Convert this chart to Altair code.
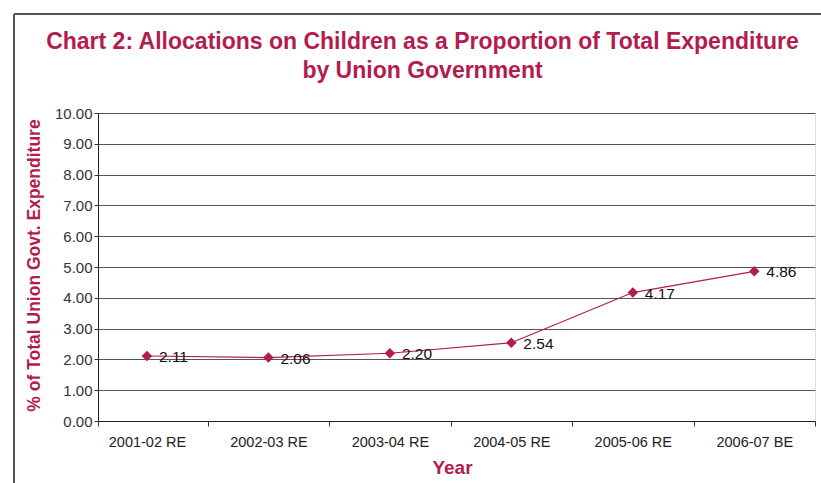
import altair as alt
import pandas as pd

years = ["2001-02 RE", "2002-03 RE", "2003-04 RE", "2004-05 RE", "2005-06 RE", "2006-07 BE"]
values = [2.11, 2.06, 2.20, 2.54, 4.17, 4.86]
labels = ["2.11", "2.06", "2.20", "2.54", "4.17", "4.86"]
y_ticks = [0, 1, 2, 3, 4, 5, 6, 7, 8, 9, 10]

df = pd.DataFrame({"idx": list(range(len(years))), "year": years, "value": values, "label": labels})

CRIMSON = "#B31C4E"
FONT = "Liberation Sans"

x_left = -0.403
x_right = 5.5
x_tick_vals = [x_left] + [v * 0.5 for v in range(0, 12)]
years_js = "[" + ",".join("'" + y + "'" for y in years) + "]"

x_enc = alt.X(
    "idx:Q",
    scale=alt.Scale(domain=[x_left, x_right], nice=False, zero=False),
    axis=alt.Axis(
        values=x_tick_vals,
        labelExpr=f"(datum.value % 1 == 0 && datum.value >= 0) ? {years_js}[datum.value] : ''",
        tickOpacity={"expr": "(datum.value % 1 == 0 && datum.value >= 0) ? 0 : 1"},
        labelOverlap=False,
        labelFlush=False,
        grid=False,
        tickSize=5,
        tickColor="#333",
        domainColor="#222",
        labelFont=FONT,
        labelFontSize=14.5,
        labelColor="#222",
        labelPadding=9,
        title="Year",
        titleFont=FONT,
        titleFontSize=19,
        titleFontWeight="bold",
        titleColor=CRIMSON,
        titleX=354,
        titleY=46,
        titleBaseline="middle",
        titleAlign="center",
    ),
)

y_enc = alt.Y(
    "value:Q",
    scale=alt.Scale(domain=[0, 10], nice=False),
    axis=alt.Axis(
        values=y_ticks,
        tickCount=11,
        format=".2f",
        labelOverlap=False,
        labelFlush=False,
        grid=True,
        gridColor="#555",
        gridWidth=1,
        gridOpacity=1,
        tickSize=4,
        tickColor="#333",
        domainColor="#222",
        labelFont=FONT,
        labelFontSize=15,
        labelColor="#333",
        labelPadding=2,
        title="% of Total Union Govt. Expenditure",
        titleFont=FONT,
        titleFontSize=17.5,
        titleFontWeight="bold",
        titleColor=CRIMSON,
        titleX=-55,
        titleY=152,
        titleAngle=270,
        titleAlign="center",
        titleBaseline="bottom",
    ),
)

base = alt.Chart(df)

line = base.mark_line(color=CRIMSON, strokeWidth=1.2).encode(x=x_enc, y=y_enc)
pts = base.mark_point(shape="diamond", filled=True, size=110, color=CRIMSON, opacity=1).encode(
    x=x_enc, y=y_enc
)
txt = base.mark_text(align="left", baseline="middle", dx=12, dy=1, font=FONT, fontSize=15.5, color="#111").encode(
    x=x_enc, y=y_enc, text="label:N"
)

# outer frame of the figure (decoration)
frame_left = alt.Chart(df).mark_rule(color="#555", strokeWidth=2).encode(
    x=alt.value(-84), y=alt.value(-99), y2=alt.value(400)
)
frame_top = alt.Chart(df).mark_rule(color="#555", strokeWidth=2).encode(
    x=alt.value(-84), x2=alt.value(800), y=alt.value(-99)
)

chart = (
    alt.layer(line, pts, txt, frame_left, frame_top)
    .properties(
        width=717,
        height=308,
        title=alt.TitleParams(
            text=[
                "Chart 2: Allocations on Children as a Proportion of Total Expenditure",
                "by Union Government",
            ],
            font=FONT,
            fontSize=23,
            fontWeight="bold",
            color=CRIMSON,
            anchor="middle",
            frame="group",
            dx=-34,
            offset=-70,
            lineHeight=29,
        ),
        autosize=alt.AutoSizeParams(type="none"),
        padding={"left": 98, "top": 113, "right": 6, "bottom": 62},
    )
    .configure_view(stroke=None)
    .configure(background="white")
)

chart.save("out.html", embed_options={"renderer": "svg", "actions": False})
